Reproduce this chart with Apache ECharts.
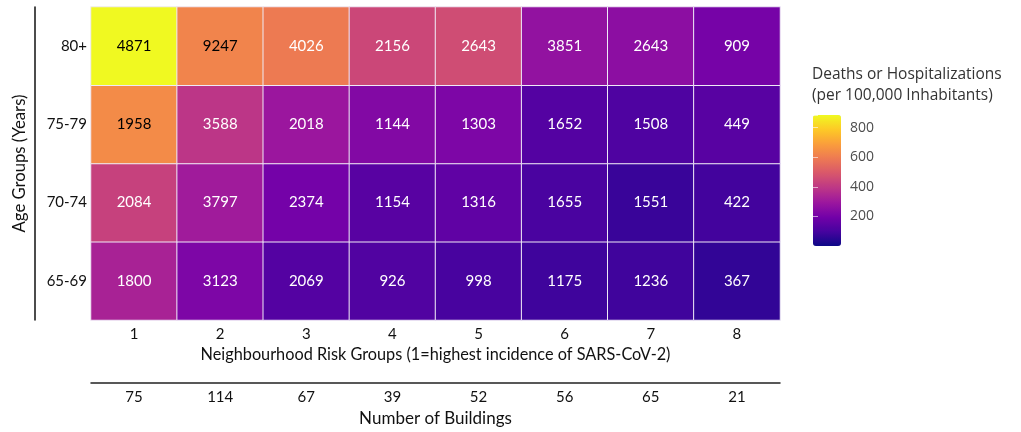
<!DOCTYPE html>
<html>
<head>
<meta charset="utf-8">
<script src="https://cdn.jsdelivr.net/npm/echarts@6/dist/echarts.min.js"></script>
<style>
html,body{margin:0;padding:0;background:#fff;}
#chart{width:1021px;height:432px;}
</style>
</head>
<body>
<div id="chart"></div>
<script>
// ---- data ----
const riskGroups = ['1','2','3','4','5','6','7','8'];
const buildings = ['75','114','67','39','52','56','65','21'];
const ageGroups = ['65-69','70-74','75-79','80+'];
const rate80 = [885, 620, 593, 443, 460, 271, 257, 204];
const rate75 = [637, 389, 292, 232, 221, 127, 116, 136];
const rate70 = [425, 307, 199, 136, 154, 104, 74, 91];
const rate65 = [330, 221, 127, 121, 100, 85, 87, 63];
// numbers printed in the cells
const count80 = [4871, 9247, 4026, 2156, 2643, 3851, 2643, 909];
const count75 = [1958, 3588, 2018, 1144, 1303, 1652, 1508, 449];
const count70 = [2084, 3797, 2374, 1154, 1316, 1655, 1551, 422];
const count65 = [1800, 3123, 2069, 926, 998, 1175, 1236, 367];
const legendTicks = [200, 400, 600, 800];
const scaleMin = 0, scaleMax = 885;

const plasma = ['#0D0887','#47039F','#7301A8','#9C179E','#BD3786','#D8576B','#ED7953','#FA9E3B','#FDC926','#F0F921'];

const rows = [
  {age: '65-69', rate: rate65, count: count65},
  {age: '70-74', rate: rate70, count: count70},
  {age: '75-79', rate: rate75, count: count75},
  {age: '80+',   rate: rate80, count: count80}
];
const cells = [];
rows.forEach(r => {
  const yi = ageGroups.indexOf(r.age);
  r.rate.forEach((v, xi) => {
    cells.push({
      value: [xi, yi, v, r.count[xi]],
      label: {color: v > 610 ? '#000' : '#fff'}
    });
  });
});

const axisFont = 'Lato, "Open Sans", sans-serif';
const chart = echarts.init(document.getElementById('chart'), null, {renderer: 'canvas'});
chart.setOption({
  animation: false,
  backgroundColor: '#fff',
  title: {
    text: 'Deaths or Hospitalizations\n(per 100,000 Inhabitants)',
    left: 812, top: 64, padding: 0,
    textStyle: {fontFamily: '"Open Sans", sans-serif', fontSize: 15.5, fontWeight: 'normal', color: '#333', lineHeight: 21}
  },
  grid: [
    {left: 91, top: 7, width: 689, height: 313},
    {left: 813, top: 115, width: 28, height: 131}
  ],
  xAxis: [
    {
      type: 'category', gridIndex: 0, data: riskGroups, position: 'bottom',
      axisLine: {show: false}, axisTick: {show: false}, splitLine: {show: false},
      axisLabel: {margin: 7, fontSize: 15, color: '#111', fontFamily: axisFont},
      name: 'Neighbourhood Risk Groups (1=highest incidence of SARS-CoV-2)',
      nameLocation: 'middle', nameGap: 27,
      nameTextStyle: {fontSize: 16.3, color: '#111', fontFamily: axisFont}
    },
    {
      type: 'category', gridIndex: 0, data: buildings, position: 'bottom', offset: 63,
      axisLine: {show: true, lineStyle: {color: '#222', width: 1.5}},
      axisTick: {show: false}, splitLine: {show: false},
      axisLabel: {margin: 7, fontSize: 15, color: '#111', fontFamily: axisFont},
      name: 'Number of Buildings',
      nameLocation: 'middle', nameGap: 26,
      nameTextStyle: {fontSize: 17, color: '#111', fontFamily: axisFont}
    },
    {type: 'value', gridIndex: 1, show: false, min: 0, max: 1}
  ],
  yAxis: [
    {
      type: 'category', gridIndex: 0, data: ageGroups,
      axisLine: {show: false}, axisTick: {show: false}, splitLine: {show: false},
      axisLabel: {margin: 4, fontSize: 15, color: '#111', fontFamily: axisFont}
    },
    {
      type: 'category', gridIndex: 0, data: ageGroups, position: 'left', offset: 56,
      axisLine: {show: true, lineStyle: {color: '#111', width: 1.5}},
      axisTick: {show: false}, axisLabel: {show: false}, splitLine: {show: false},
      name: 'Age Groups (Years)', nameLocation: 'middle', nameRotate: 90, nameGap: 7,
      nameTextStyle: {fontSize: 16.7, color: '#111', fontFamily: axisFont}
    },
    {
      type: 'value', gridIndex: 1, position: 'right', min: scaleMin, max: scaleMax, interval: 200, z: 10,
      axisLine: {show: false}, splitLine: {show: false},
      axisTick: {show: true, inside: true, length: 5, lineStyle: {color: 'rgba(255,255,255,0.6)', width: 1}},
      axisLabel: {margin: 9, fontSize: 14, color: '#4d4d4d', fontFamily: '"Open Sans", sans-serif',
        formatter: v => legendTicks.includes(v) ? String(v) : ''}
    },
    {
      type: 'value', gridIndex: 1, position: 'left', min: scaleMin, max: scaleMax, interval: 200, z: 10,
      axisLine: {show: false}, splitLine: {show: false},
      axisTick: {show: true, inside: true, length: 5, lineStyle: {color: 'rgba(255,255,255,0.6)', width: 1}},
      axisLabel: {show: false}
    }
  ],
  visualMap: {
    type: 'continuous', seriesIndex: 0, dimension: 2,
    min: scaleMin, max: scaleMax, calculable: false,
    left: 813, top: 115, padding: 0, itemWidth: 28, itemHeight: 131,
    text: null, showLabel: false,
    inRange: {color: plasma}
  },
  series: [{
    type: 'heatmap', xAxisIndex: 0, yAxisIndex: 0,
    data: cells,
    itemStyle: {borderColor: '#efeaf6', borderWidth: 1},
    label: {
      show: true, fontSize: 15, fontFamily: axisFont,
      formatter: p => String(p.value[3])
    },
    emphasis: {disabled: true}
  }]
});
</script>
</body>
</html>
